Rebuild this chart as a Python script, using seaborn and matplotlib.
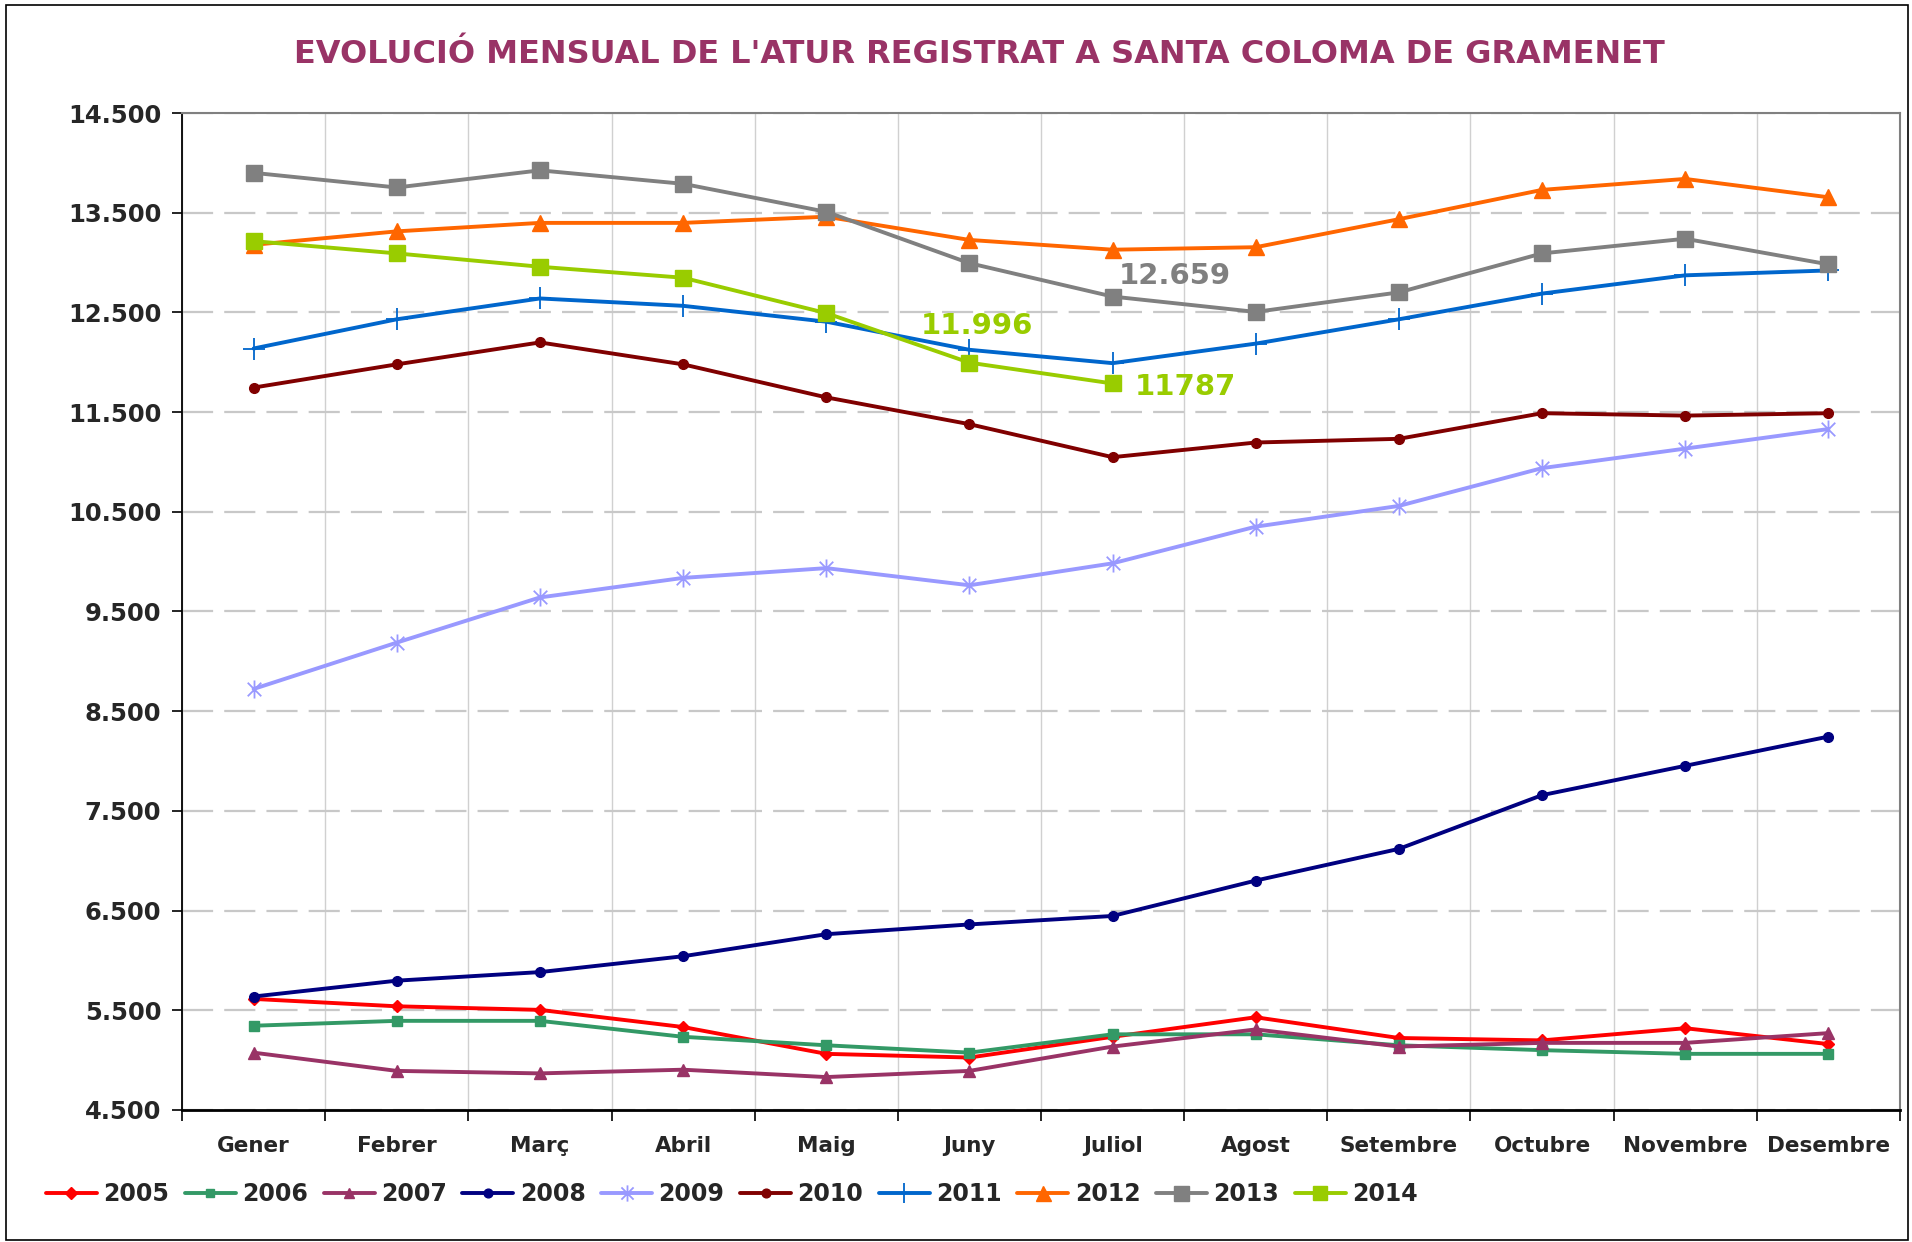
import numpy as np
import pandas as pd
import matplotlib
matplotlib.use("Agg")
import matplotlib.pyplot as plt
from matplotlib.path import Path
from matplotlib.patches import Rectangle
from matplotlib.ticker import FuncFormatter, FixedLocator
import seaborn as sns

# ---------------- data ----------------
months = ["Gener", "Febrer", "Març", "Abril", "Maig", "Juny", "Juliol",
          "Agost", "Setembre", "Octubre", "Novembre", "Desembre"]

y2005 = [5614, 5540, 5504, 5332, 5063, 5026, 5234, 5430, 5222, 5198, 5320, 5161]
y2006 = [5345, 5394, 5394, 5234, 5149, 5075, 5259, 5259, 5149, 5100, 5063, 5063]
y2007 = [5075, 4892, 4867, 4904, 4830, 4892, 5136, 5308, 5136, 5173, 5173, 5271]
y2008 = [5638, 5797, 5883, 6042, 6263, 6361, 6446, 6801, 7119, 7658, 7952, 8245]
y2009 = [8723, 9188, 9641, 9837, 9935, 9763, 9983, 10351, 10559, 10938, 11134, 11330]
y2010 = [11746, 11979, 12199, 11979, 11648, 11379, 11048, 11195, 11232, 11489, 11465, 11489]
y2011 = [12138, 12431, 12640, 12566, 12407, 12125, 11991, 12187, 12431, 12689, 12872, 12921]
y2012 = [13178, 13313, 13398, 13398, 13460, 13227, 13129, 13154, 13435, 13729, 13839, 13655]
y2013 = [13900, 13753, 13925, 13790, 13509, 12994, 12659, 12505, 12701, 13092, 13239, 12982]
y2014 = [13215, 13092, 12958, 12848, 12493, 11996, 11787]

years = ["2005", "2006", "2007", "2008", "2009", "2010", "2011", "2012", "2013", "2014"]
series = [y2005, y2006, y2007, y2008, y2009, y2010, y2011, y2012, y2013, y2014]

yticks = [4500, 5500, 6500, 7500, 8500, 9500, 10500, 11500, 12500, 13500, 14500]

labels_text = ["12.659", "11.996", "11787"]
labels_year = ["2013", "2014", "2014"]
labels_month = ["Juliol", "Juny", "Juliol"]

title = "EVOLUCIÓ MENSUAL DE L'ATUR REGISTRAT A SANTA COLOMA DE GRAMENET"

# ---------------- styles ----------------
colors = {"2005": "#FF0000", "2006": "#339966", "2007": "#993366", "2008": "#000080",
          "2009": "#9999FF", "2010": "#800000", "2011": "#0066CC", "2012": "#FF6600",
          "2013": "#808080", "2014": "#99CC00"}

asterisk = Path([(0, -1), (0, 1), (-0.75, -0.75), (0.75, 0.75), (-0.75, 0.75), (0.75, -0.75)],
                [Path.MOVETO, Path.LINETO, Path.MOVETO, Path.LINETO, Path.MOVETO, Path.LINETO])

markers = {"2005": "D", "2006": "s", "2007": "^", "2008": "o", "2009": asterisk,
           "2010": "o", "2011": "+", "2012": "^", "2013": "s", "2014": "s"}
msizes = {"2005": 6.5, "2006": 7, "2007": 8, "2008": 7, "2009": 13,
          "2010": 7, "2011": 16, "2012": 12, "2013": 12, "2014": 11.5}
mews = {"2009": 1.3, "2011": 1.3}

sns.set_style("white")
plt.rcParams["font.family"] = ["DejaVu Sans"]
plt.rcParams["font.weight"] = "bold"

fig = plt.figure(figsize=(19.12, 12.42), dpi=100)
ax = fig.add_axes([0.0952, 0.1063, 0.8985, 0.8027])

df = pd.concat([pd.DataFrame({"mes": months[:len(v)], "atur": v, "any": yr})
                for yr, v in zip(years, series)], ignore_index=True)

for yr in years:
    sub = df[df["any"] == yr]
    c = colors[yr]
    sns.lineplot(data=sub, x="mes", y="atur", ax=ax, sort=False, errorbar=None,
                 color=c, linewidth=2.8, marker=markers[yr], markersize=msizes[yr],
                 markeredgecolor=c, markerfacecolor=c, markeredgewidth=mews.get(yr, 1),
                 label=yr, legend=False, zorder=3)

# data labels
for txt, yr, mo in zip(labels_text, labels_year, labels_month):
    v = df[(df["any"] == yr) & (df["mes"] == mo)]["atur"].iloc[0]
    xi = months.index(mo)
    if txt == "12.659":
        off, ha, va = (6, 21), "left", "center"
    elif txt == "11.996":
        off, ha, va = (8, 37), "center", "center"
    else:
        off, ha, va = (22, -4), "left", "center"
    ax.annotate(txt, xy=(xi, v), xytext=off, textcoords="offset pixels",
                ha=ha, va=va, fontsize=21, fontweight="bold", color=colors[yr], zorder=5)

# axes
ax.set_ylim(4500, 14500)
ax.set_xlim(-0.5, 11.5)
ax.yaxis.set_major_locator(FixedLocator(yticks))
ax.yaxis.set_major_formatter(FuncFormatter(lambda v, p: f"{int(v):,}".replace(",", ".")))
ax.set_xticks(range(12))
ax.set_xticklabels(months)
ax.xaxis.set_minor_locator(FixedLocator(np.arange(-0.5, 12, 1)))
ax.tick_params(axis="x", which="major", length=0, pad=19, labelsize=15.5)
ax.tick_params(axis="x", which="minor", length=8, width=1.2, color="black", bottom=True)
ax.tick_params(axis="y", which="major", length=7, width=1.2, color="black", left=True,
               labelsize=17.5, pad=8)
for lab in ax.get_xticklabels() + ax.get_yticklabels():
    lab.set_fontweight("bold")
ax.set_xlabel("")
ax.set_ylabel("")

ax.grid(False)
ax.yaxis.grid(True, which="major", color="#C8C8C8", linestyle=(0, (14, 5)), linewidth=1.6, zorder=0)
ax.xaxis.grid(True, which="minor", color="#D0D0D0", linestyle="-", linewidth=1.0, zorder=0)
ax.set_axisbelow(True)

ax.spines["left"].set_color("black")
ax.spines["left"].set_linewidth(1.3)
ax.spines["bottom"].set_color("black")
ax.spines["bottom"].set_linewidth(2.0)
ax.spines["top"].set_color("#808080")
ax.spines["top"].set_linewidth(1.5)
ax.spines["right"].set_color("#808080")
ax.spines["right"].set_linewidth(1.5)

fig.text(0.512, 0.9565, title, ha="center", va="center", fontsize=23,
         fontweight="bold", color="#993366")

handles, labs = ax.get_legend_handles_labels()
fig.legend(handles, labs, loc="center left", bbox_to_anchor=(0.024, 0.0386), ncol=10,
           frameon=False, prop={"size": 17, "weight": "bold"}, handlelength=2.16,
           handletextpad=0.27, columnspacing=0.66, borderpad=0, borderaxespad=0,
           markerscale=0.9)

fig.patches.append(Rectangle((0.003, 0.002), 0.995, 0.994, transform=fig.transFigure,
                             fill=False, edgecolor="black", linewidth=1.2))

fig.savefig("out.png", dpi=100)
